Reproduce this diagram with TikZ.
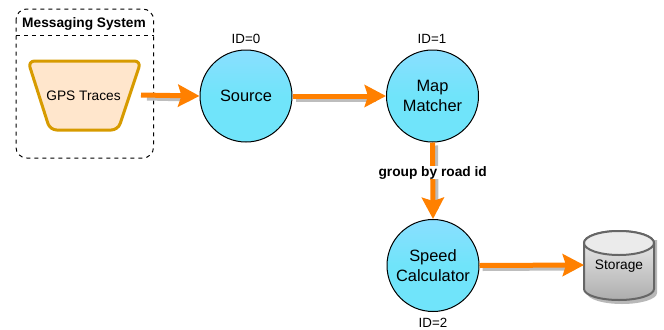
\documentclass[tikz,border=0pt]{standalone}
\usepackage{fontspec}
\setmainfont{Liberation Sans}
\usetikzlibrary{arrows.meta}
\definecolor{orangeline}{HTML}{FF8000}
\definecolor{trapline}{HTML}{D79B00}
\definecolor{trapfill}{HTML}{FFE6CC}
\definecolor{shadowgrey}{HTML}{BDBDBD}
\definecolor{cylline}{HTML}{666666}
\definecolor{procT}{HTML}{8ADFFF}
\definecolor{procB}{HTML}{70E4FA}
\tikzset{
  x=0.75pt,y=-0.75pt,
  proc/.style={circle,draw=black,line width=0.75pt,minimum size=69pt,inner sep=0pt,align=center,
    top color=procT,bottom color=procB,middle color=procB,font=\fontsize{12.3}{15}\selectfont},
  idlabel/.style={font=\fontsize{10}{12}\selectfont,inner sep=0pt},
  flow/.style={draw=orangeline,line width=3.75pt,-{Stealth[length=16pt,width=16.5pt,inset=2.5pt,fill=orangeline]}},
  flowshadow/.style={draw=shadowgrey,line width=3.75pt},
  txt/.style={inner sep=0pt,font=\fontsize{10.3}{12}\selectfont},
  boldtxt/.style={inner sep=0pt,font=\fontsize{10.3}{12}\selectfont\bfseries},
}
\begin{document}
\begin{tikzpicture}
\useasboundingbox (0,0) rectangle (664,329);
% messaging box
\draw[dashed,line width=0.75pt,rounded corners=8pt] (16,9) rectangle (153.5,158);
\draw[dashed,line width=0.75pt] (16,35.5) -- (153.5,35.5);
\node[boldtxt] (msg) at (84,23.5) {Messaging System};
% trapezoid
\draw[draw=trapline,fill=trapfill,line width=2.25pt,rounded corners=5pt,line join=round]
  (28,61) -- (141,61) -- (118,130) -- (50,130) -- cycle;
\node[txt] (gps) at (83.5,96) {GPS Traces};
\coordinate (gpsout) at (141,95);
% process nodes
\node[proc] (src) at (246,96) {Source};
\node[proc] (map) at (432.5,96) {Map\\Matcher};
\node[proc] (spd) at (433,265.5) {Speed\\Calculator};
\node[idlabel] (id0) at (246,38.5) {ID=0};
\node[idlabel] (id1) at (432,38.5) {ID=1};
\node[idlabel] (id2) at (433,323) {ID=2};
% storage
\coordinate (st) at (584,265);
\fill[black!28] (587,240) -- (587,293) arc[start angle=180,end angle=0,x radius=35,y radius=11] -- (657,240) -- cycle;
\draw[draw=cylline,line width=1.5pt,top color=black!6,bottom color=black!32]
  (584,243) -- (584,289) arc[start angle=180,end angle=0,x radius=35,y radius=11] -- (654,243)
  arc[start angle=0,end angle=-180,x radius=35,y radius=12] -- cycle;
\draw[draw=cylline,line width=1.5pt,fill=black!8] (619,243) ellipse[x radius=35,y radius=12];
\node[txt] (store) at (619,266) {Storage};
% shadows
\draw[flowshadow] ([shift={(6,3)}]gpsout) -- ([shift={(-10,3)}]src.west);
\draw[flowshadow] ([shift={(3,3)}]src.east) -- ([shift={(-10,3)}]map.west);
\draw[flowshadow] ([shift={(3,3)}]map.south) -- ([shift={(3,-10)}]spd.north);
\draw[flowshadow] ([shift={(3,3)}]spd.east) -- ([shift={(-10,3)}]st);
% flows
\draw[flow] (gpsout) -- (src.west);
\draw[flow] (src.east) -- (map.west);
\draw[flow] (map.south) -- node[fill=white,inner sep=1.5pt,boldtxt,pos=0.395] (lab) {group by road id} (spd.north);
\draw[flow] (spd.east) -- (st);
\end{tikzpicture}
\end{document}
